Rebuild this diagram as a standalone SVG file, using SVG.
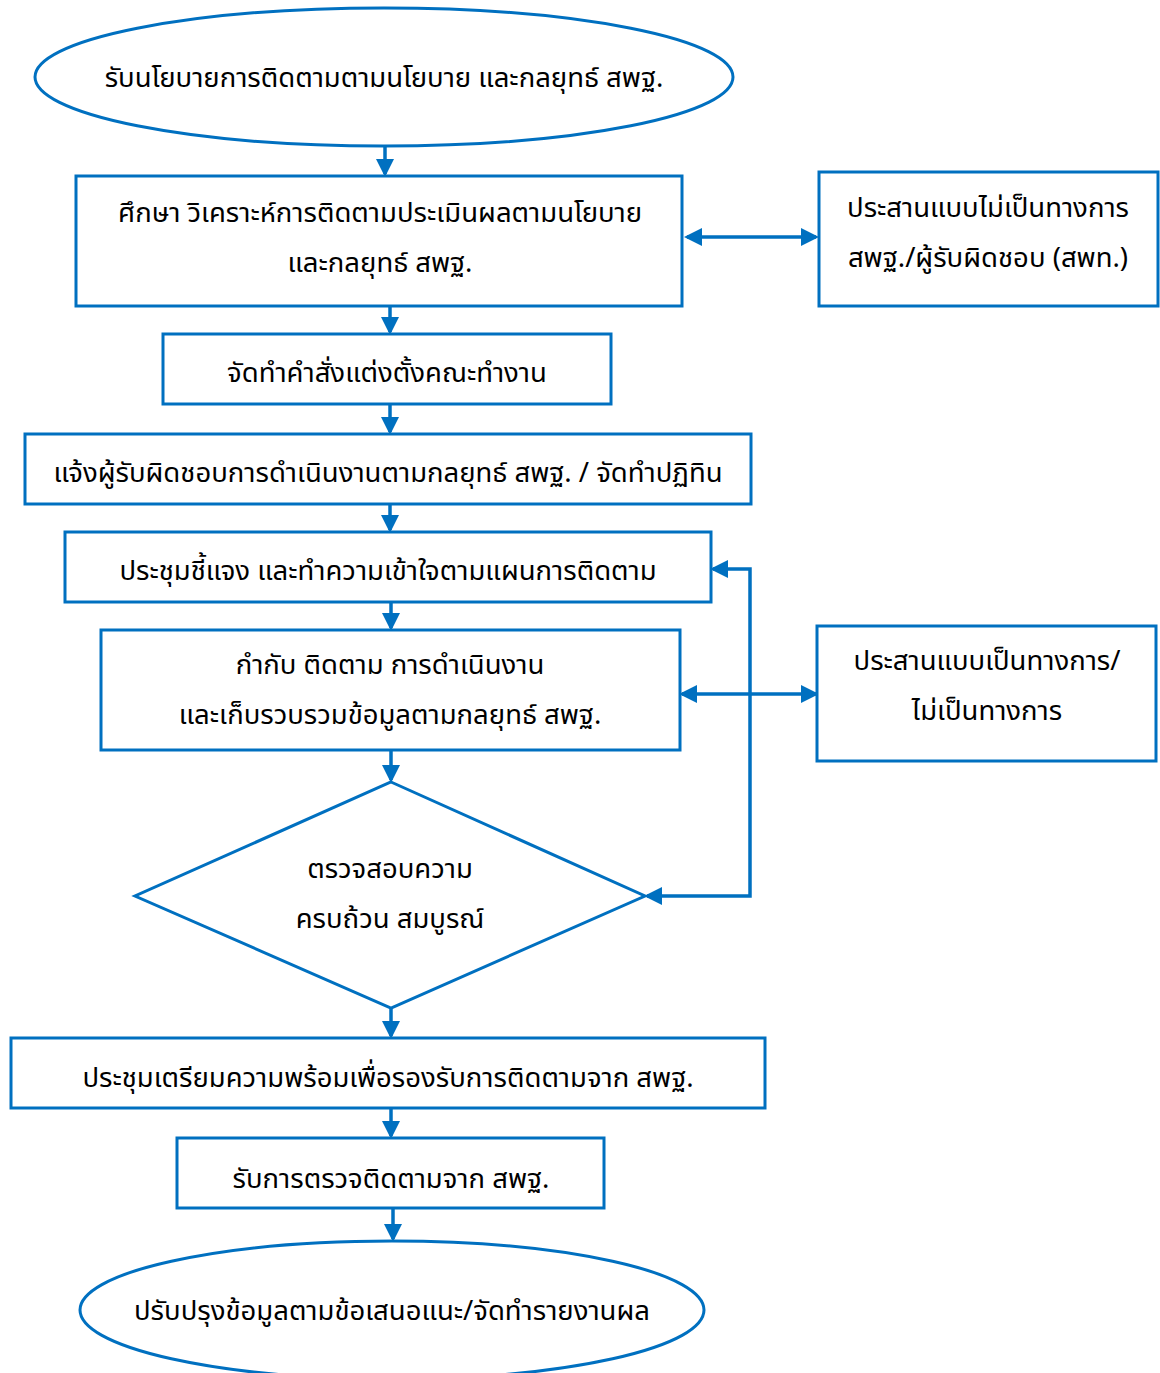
<svg xmlns="http://www.w3.org/2000/svg" width="1160" height="1373" viewBox="0 0 1160 1373">
<style>
.s{fill:#fff;stroke:#0070C0;stroke-width:3}
.c{fill:none;stroke:#0070C0;stroke-width:3.5}
text{font-family:"Noto Sans Thai","Noto Sans","DejaVu Sans",sans-serif;font-size:27.5px;fill:#000;text-anchor:middle}
</style>
<defs>
<marker id="a" markerUnits="userSpaceOnUse" markerWidth="18" markerHeight="18" refX="15" refY="9" orient="auto-start-reverse" viewBox="0 0 18 18">
<path d="M0,0 L18,9 L0,18 Z" fill="#0070C0"/>
</marker>
</defs>
<g id="connectors">
<path class="c" d="M385,146 V174" marker-end="url(#a)"/>
<path class="c" d="M687,237 H816" marker-start="url(#a)" marker-end="url(#a)"/>
<path class="c" d="M390,306 V332" marker-end="url(#a)"/>
<path class="c" d="M390,404 V432" marker-end="url(#a)"/>
<path class="c" d="M390,504 V530" marker-end="url(#a)"/>
<path class="c" d="M391,602 V628" marker-end="url(#a)"/>
<path class="c" d="M682,694 H816" marker-start="url(#a)" marker-end="url(#a)"/>
<path class="c" d="M713,569 H750 V896 H647" marker-start="url(#a)" marker-end="url(#a)"/>
<path class="c" d="M391,750 V780" marker-end="url(#a)"/>
<path class="c" d="M391,1008 V1036" marker-end="url(#a)"/>
<path class="c" d="M391,1108 V1136" marker-end="url(#a)"/>
<path class="c" d="M393,1208 V1239" marker-end="url(#a)"/>
</g>
<g id="n1"><ellipse class="s" cx="384" cy="77" rx="349" ry="69"/><text x="384" y="87">รับนโยบายการติดตามตามนโยบาย และกลยุทธ์ สพฐ.</text></g>
<g id="n2"><rect class="s" x="76" y="176" width="606" height="130"/><text x="380" y="222">ศึกษา วิเคราะห์การติดตามประเมินผลตามนโยบาย</text><text x="380" y="272">และกลยุทธ์ สพฐ.</text></g>
<g id="r1"><rect class="s" x="819" y="172" width="339" height="134"/><text x="988" y="217">ประสานแบบไม่เป็นทางการ</text><text x="988" y="267">สพฐ./ผู้รับผิดชอบ (สพท.)</text></g>
<g id="n3"><rect class="s" x="163" y="334" width="448" height="70"/><text x="387" y="382">จัดทำคำสั่งแต่งตั้งคณะทำงาน</text></g>
<g id="n4"><rect class="s" x="25" y="434" width="726" height="70"/><text x="388" y="482">แจ้งผู้รับผิดชอบการดำเนินงานตามกลยุทธ์ สพฐ. / จัดทำปฏิทิน</text></g>
<g id="n5"><rect class="s" x="65" y="532" width="646" height="70"/><text x="388" y="580">ประชุมชี้แจง และทำความเข้าใจตามแผนการติดตาม</text></g>
<g id="n6"><rect class="s" x="101" y="630" width="579" height="120"/><text x="390" y="674">กำกับ ติดตาม การดำเนินงาน</text><text x="390" y="724">และเก็บรวบรวมข้อมูลตามกลยุทธ์ สพฐ.</text></g>
<g id="r2"><rect class="s" x="817" y="626" width="339" height="135"/><text x="987" y="670">ประสานแบบเป็นทางการ/</text><text x="987" y="720">ไม่เป็นทางการ</text></g>
<g id="d1"><polygon class="s" points="391,782 645,896 391,1008 135,896"/><text x="390" y="878">ตรวจสอบความ</text><text x="390" y="928">ครบถ้วน สมบูรณ์</text></g>
<g id="n7"><rect class="s" x="11" y="1038" width="754" height="70"/><text x="388" y="1087">ประชุมเตรียมความพร้อมเพื่อรองรับการติดตามจาก สพฐ.</text></g>
<g id="n8"><rect class="s" x="177" y="1138" width="427" height="70"/><text x="391" y="1188">รับการตรวจติดตามจาก สพฐ.</text></g>
<g id="n9"><ellipse class="s" cx="392" cy="1310" rx="312" ry="69"/><text x="392" y="1320">ปรับปรุงข้อมูลตามข้อเสนอแนะ/จัดทำรายงานผล</text></g>
</svg>
